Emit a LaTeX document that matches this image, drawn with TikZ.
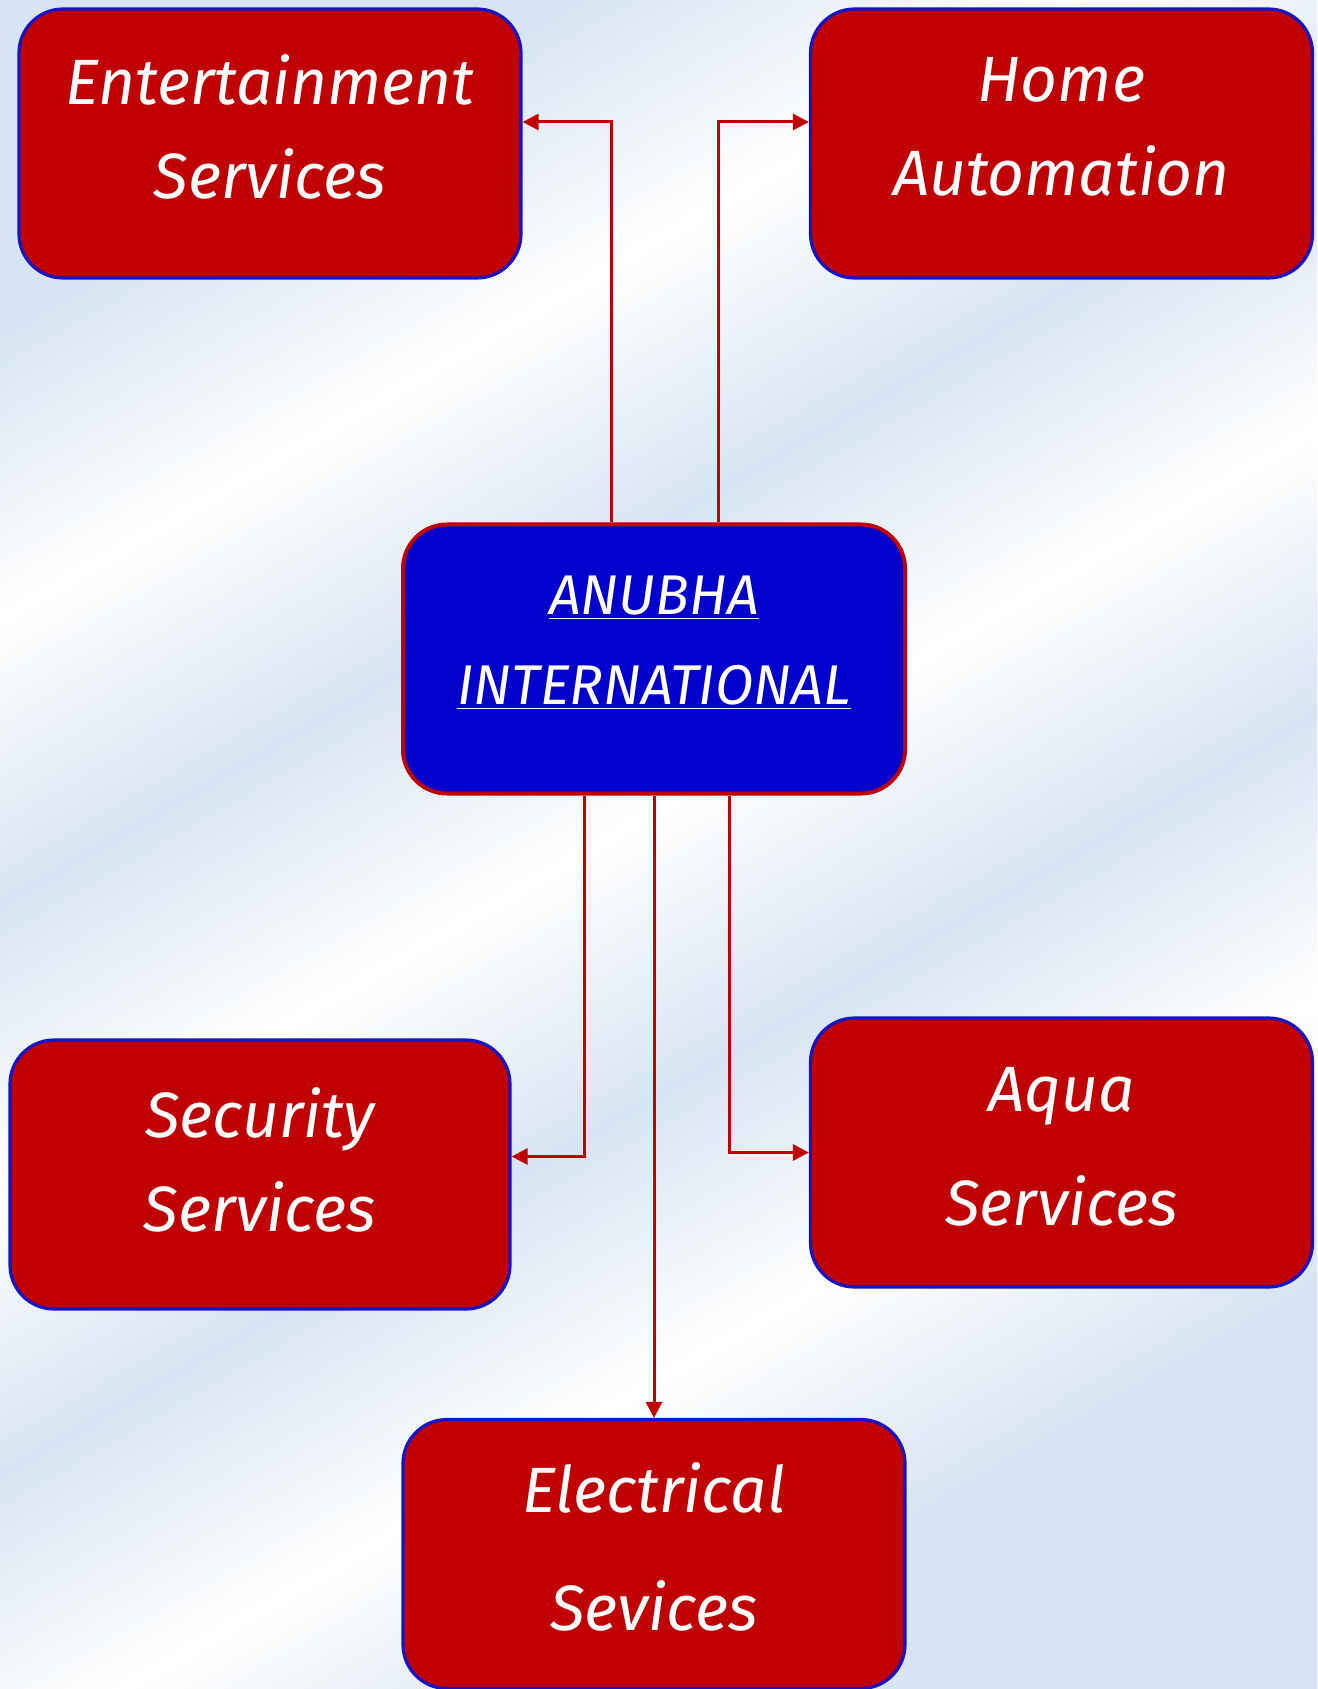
\documentclass[tikz,border=0pt]{standalone}
\usepackage{fontspec}
\setmainfont{Fira Sans}
\usepackage{xcolor}
\definecolor{ColBox}{RGB}{192,0,0}
\definecolor{ColRim}{RGB}{20,20,200}
\definecolor{ColHub}{RGB}{0,0,204}
\definecolor{ColBg}{RGB}{216,228,243}
\usepackage{tikz}
\usetikzlibrary{arrows.meta}
\pgfdeclarehorizontalshading{Streaks}{100bp}{color(0bp)=(ColBg); color(25bp)=(ColBg);
color(33bp)=(white); color(41bp)=(ColBg); color(49bp)=(white); color(57bp)=(ColBg);
color(65bp)=(white); color(73bp)=(ColBg); color(100bp)=(ColBg)}
\tikzstyle{Box}=[rectangle,rounded corners=22pt,draw=ColRim,line width=1.6pt,
fill=ColBox,minimum width=251pt,minimum height=134.5pt]
\tikzstyle{Hub}=[Box,draw=ColBox,fill=ColHub,line width=2pt]
\tikzstyle{Caption}=[text=white,align=center,font=\fontsize{32}{47}\selectfont\itshape]
\tikzstyle{HubCaption}=[Caption,font=\fontsize{28}{45}\selectfont\itshape]
\tikzstyle{Link}=[draw=ColBox,line width=1.5pt,-{Triangle[length=8pt,width=8pt]}]

\begin{document}
\begin{tikzpicture}[x=0.5pt,y=-0.5pt]
    % background
    \shade[shading=Streaks,shading angle=-60](0,0)rectangle(1317,1689);
    \useasboundingbox(0,0)rectangle(1317,1689);
    % boxes
    \node[Box](ent)at(270,143.5){};
    \node[Box](home)at(1061.5,143.5){};
    \node[Hub](hub)at(654,659){};
    \node[Box,minimum width=250pt](sec)at(260,1174.5){};
    \node[Box](aqua)at(1061.5,1152.5){};
    \node[Box](elec)at(654,1554){};
    % captions
    \node[Caption](ent-t)at(270,126.5){Entertainment\\Services};
    \node[Caption](home-t)at(1061.5,126.5){Home\\Automation};
    \node[HubCaption](hub-t)at(654,643){\underline{ANUBHA}\\\underline{INTERNATIONAL}};
    \node[Caption](sec-t)at(260,1160){Security\\Services};
    \node[Caption](aqua-t)at(1061.5,1147){Aqua\\[10pt]Services};
    \node[Caption](elec-t)at(654,1547){Electrical\\[12pt]Sevices};
    % links
    \draw[Link]([xshift=-21.5pt]hub.north)|-([yshift=10.75pt]ent.east);
    \draw[Link]([xshift=32pt]hub.north)|-([yshift=10.75pt]home.west);
    \draw[Link]([xshift=-35pt]hub.south)|-([yshift=9pt]sec.east);
    \draw[Link](hub.south)--(elec.north);
    \draw[Link]([xshift=37.5pt]hub.south)|-(aqua.west);
\end{tikzpicture}
\end{document}
